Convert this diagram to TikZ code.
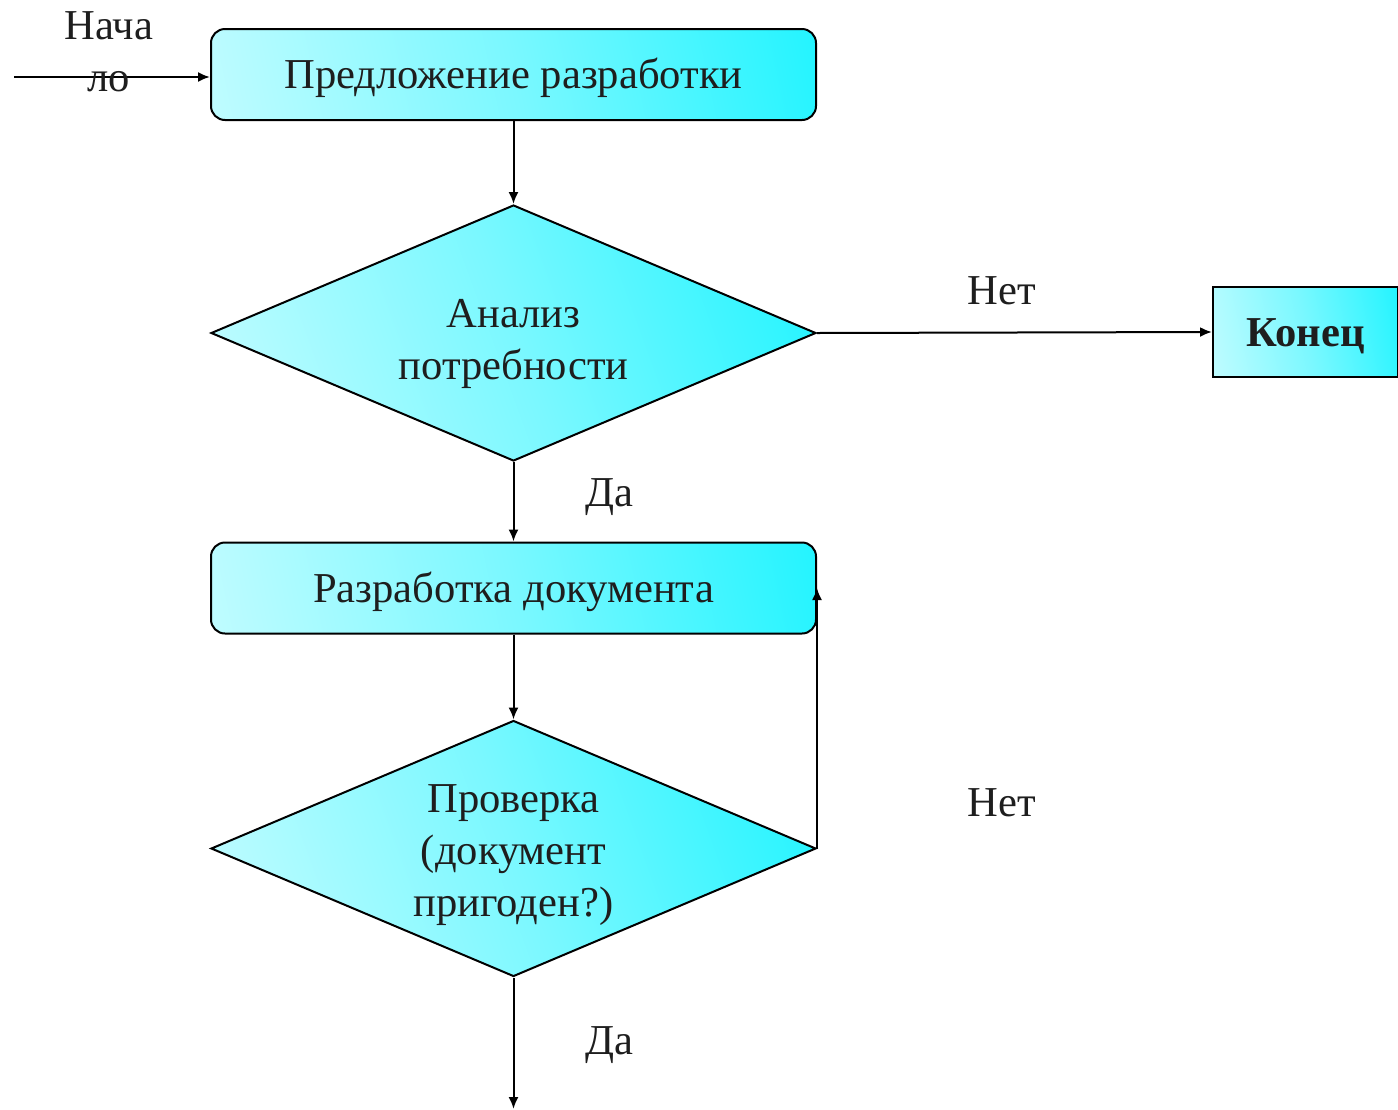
\documentclass[tikz,border=0pt]{standalone}
\usepackage{fontspec}
\setmainfont{Liberation Serif}
\usetikzlibrary{shapes.geometric,arrows.meta}
\definecolor{flowcyan}{RGB}{0,242,255}
\definecolor{inkgray}{RGB}{30,30,30}
\pgfdeclarehorizontalshading{flowfill}{100bp}{color(0bp)=(white); color(8bp)=(flowcyan!14);
    color(50bp)=(flowcyan!52); color(92bp)=(flowcyan); color(100bp)=(flowcyan)}

\begin{document}
\begin{tikzpicture}[x=0.5pt, y=-0.5pt,
        font=\fontsize{21.3}{26}\selectfont, text=inkgray,
        txt/.style={text height=14pt, text depth=0pt},
        shade/.style={shading=flowfill, shading angle=#1},
        shade/.default=12,
        process/.style={shade, txt, draw, line width=1pt, rectangle, rounded corners=7pt,
                        minimum width=302.5pt, minimum height=45.5pt},
        decision/.style={shade=20, draw, line width=1pt, diamond, inner sep=0pt,
                         minimum width=302.5pt, minimum height=128pt},
        arrow/.style={line width=1pt, -{Latex[length=6pt,width=5pt]}}]
    % Fixed page size
    \useasboundingbox (0,0) rectangle (1398,1109);

    % Blocks
    \node[process] (offer) at (513.5,74.5) {Предложение разработки};
    \node[decision, label={[align=center, yshift=-5.5pt]center:Анализ\\потребности}] (need) at (513.5,333) {};
    \node[process] (draft) at (513.5,588) {Разработка документа};
    \node[decision, label={[align=center, yshift=-3.5pt]center:Проверка\\(документ\\пригоден?)}] (check) at (513.5,848.5) {};
    \node[shade, txt, draw, line width=1pt, minimum width=92.5pt, minimum height=45pt,
          font=\fontsize{21.3}{26}\selectfont\bfseries] (stop) at (1305.5,332) {Конец};

    % Entry and exit points
    \coordinate (entry) at (14,77);
    \coordinate (exit) at (513.5,1109);

    % Connectors
    \draw[arrow] (entry) -- (entry -| offer.west);
    \draw[arrow] (offer) -- (need);
    \draw[arrow] (need) -- (draft);
    \draw[arrow] (need.east) -- (stop.west);
    \draw[arrow] (draft) -- (check);
    \draw[arrow] (check.east) -- (draft.east);
    \draw[arrow] (check.south) -- (exit);

    % Labels
    \node[align=center] (startlbl) at (109,52) {Нача\\ло};
    \node[txt] (no1) at (1002,290) {Нет};
    \node[txt] (yes1) at (609,492) {Да};
    \node[txt] (no2) at (1002,802) {Нет};
    \node[txt] (yes2) at (609,1040) {Да};
\end{tikzpicture}
\end{document}
